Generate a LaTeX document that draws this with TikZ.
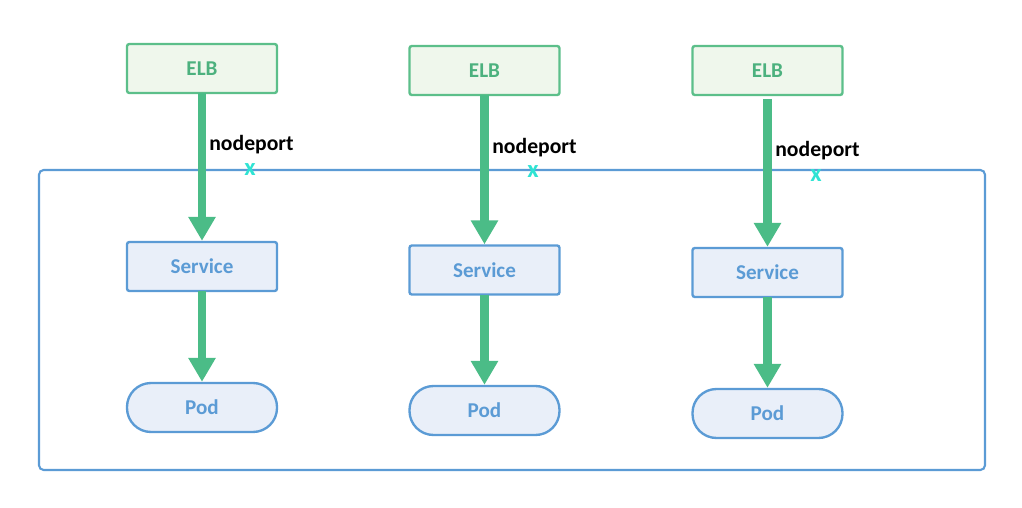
\documentclass[tikz,border=0pt]{standalone}
\usepackage{fontspec}
\setmainfont{Carlito}
\usepackage{tikz}
\usetikzlibrary{arrows.meta}

\definecolor{elbgreen}{HTML}{5CBF8A}
\definecolor{elbtext}{HTML}{4CB17E}
\definecolor{elbfill}{HTML}{EFF7EC}
\definecolor{svcblue}{HTML}{5B9BD5}
\definecolor{svcfill}{HTML}{E9EFF9}
\definecolor{arrowgreen}{HTML}{4BBC87}
\definecolor{crosscyan}{HTML}{2EE3D3}

\begin{document}
\begin{tikzpicture}[x=0.03cm, y=-0.03cm]
        \tikzstyle{elb} = [rectangle, rounded corners=2pt, minimum width=4.5cm, minimum height=1.47cm, text centered, line width=2pt, draw=elbgreen, fill=elbfill, text=elbtext, font=\fontsize{18}{21}\selectfont\bfseries]
        \tikzstyle{service} = [rectangle, rounded corners=2pt, minimum width=4.5cm, minimum height=1.47cm, text centered, line width=2pt, draw=svcblue, fill=svcfill, text=svcblue, font=\fontsize{18}{21}\selectfont\bfseries]
        \tikzstyle{pod} = [service, rounded corners=0.72cm]
        \tikzstyle{arrow} = [line width=7.5pt, draw=arrowgreen, -{Triangle[width=0.78cm, length=0.72cm]}, shorten <=-1pt]
        \tikzstyle{portlabel} = [font=\fontsize{18.5}{21}\selectfont\bfseries, text=black, inner sep=0pt]
        \tikzstyle{cross} = [font=\fontsize{21}{24}\selectfont\bfseries, text=crosscyan, inner sep=0pt]

        \useasboundingbox (0,0) rectangle (1022,508);

        % cluster frame
        \draw [svcblue, line width=1.8pt, rounded corners=4pt] (39,170) rectangle (985,470);

        \node (elbA) [elb] at (202,68.5) {ELB};
        \node (svcA) [service] at (202,266.5) {Service};
        \node (podA) [pod] at (202,407.5) {Pod};

        \node (elbB) [elb] at (484.5,70.5) {ELB};
        \node (svcB) [service] at (484.5,270) {Service};
        \node (podB) [pod] at (484.5,410.5) {Pod};

        \node (elbC) [elb] at (767.5,70.5) {ELB};
        \node (svcC) [service] at (767.5,272.5) {Service};
        \node (podC) [pod] at (767.5,413.5) {Pod};

        \draw [arrow] (elbA) -- (svcA);
        \draw [arrow] (svcA) -- (podA);
        \draw [arrow] (elbB) -- (svcB);
        \draw [arrow] (svcB) -- (podB);
        \draw [arrow] (elbC.south) ++(0,4) coordinate (startC) (startC) -- (svcC);
        \draw [arrow] (svcC) -- (podC);

        \node (portA) [portlabel] at (251.5,145) {nodeport};
        \node (portB) [portlabel] at (534.5,148) {nodeport};
        \node (portC) [portlabel] at (817.5,151) {nodeport};

        \node (crossA) [cross] at (250,170) {x};
        \node (crossB) [cross] at (533,172) {x};
        \node (crossC) [cross] at (816,176) {x};
    \end{tikzpicture}
\end{document}
